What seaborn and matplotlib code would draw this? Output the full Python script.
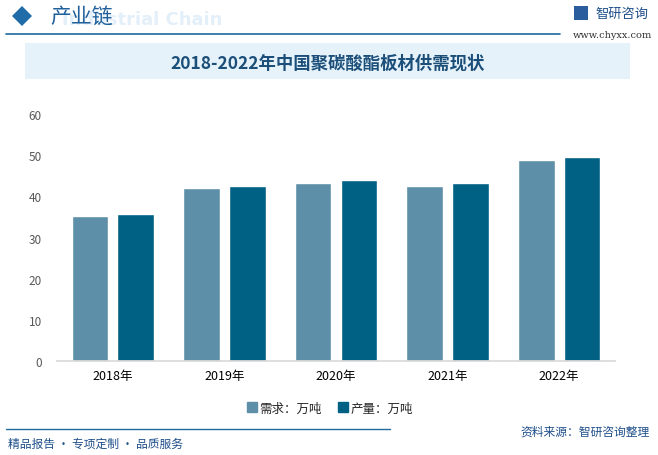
import matplotlib
matplotlib.use("Agg")
import matplotlib.pyplot as plt
import seaborn as sns
import pandas as pd
from matplotlib.patches import Rectangle, Polygon
from matplotlib.lines import Line2D

years = ["2018年", "2019年", "2020年", "2021年", "2022年"]
demand = [35.2, 42.0, 43.2, 42.5, 48.8]
production = [35.7, 42.5, 43.9, 43.2, 49.5]
series_names = ["需求：万吨", "产量：万吨"]
colors = ["#5E8FA8", "#006185"]

sns.set_theme(style="white")
plt.rcParams['font.family'] = ['Noto Sans CJK SC', 'DejaVu Sans']

df = pd.DataFrame({
    "year": years * 2,
    "value": demand + production,
    "series": [series_names[0]] * len(years) + [series_names[1]] * len(years),
})

fig = plt.figure(figsize=(6.58, 4.56), dpi=100)
ax = fig.add_axes([57/658, 1-362/456, (615-57)/658, (362-115)/456])

sns.barplot(data=df, x="year", y="value", hue="series", palette=colors,
            width=0.82, gap=0.2, ax=ax, legend=False, saturation=1)

ax.set_xlim(-0.5, 4.5)
ax.set_ylim(0, 60)
ax.set_yticks(range(0, 61, 10))
ax.set_xlabel("")
ax.set_ylabel("")
for s in ["left", "right", "top"]:
    ax.spines[s].set_visible(False)
ax.spines["bottom"].set_color("#D9D9D9")
ax.tick_params(axis="y", colors="#595959", labelsize=8.5, length=0, pad=11)
ax.tick_params(axis="x", colors="#000000", labelsize=9, length=0, pad=6)
ax.grid(False)

# Legend
handles = [Line2D([0], [0], marker="s", linestyle="", markersize=7,
                  markerfacecolor=c, markeredgecolor=c) for c in colors]
fig.legend(handles, series_names, loc="center", bbox_to_anchor=(0.5, 1-409/456),
           ncol=2, frameon=False, fontsize=9, handletextpad=0.1, columnspacing=1.2,
           handlelength=1.0)

# Header
fig.patches.append(Polygon([[ (22-10)/658, 1-17/456], [22/658, 1-7/456],
                            [(22+10)/658, 1-17/456], [22/658, 1-27/456]],
                           closed=True, transform=fig.transFigure,
                           facecolor="#1F6CA8", edgecolor="none"))
fig.text(62/658, 1-25/456, "Industrial Chain", fontsize=13, color="#E3EFF9",
         fontweight="bold", family=["DejaVu Sans"], va="baseline")
fig.text(50/658, 1-17/456, "产业链", fontsize=15, color="#1F5F9B", va="center")
fig.add_artist(Line2D([6/658, 560/658], [1-35/456, 1-35/456], color="#1F6A9E",
                      lw=1.2, transform=fig.transFigure))
# Logo
fig.patches.append(Rectangle((574/658, 1-21/456), 14/658, 14/456,
                             transform=fig.transFigure, facecolor="#2B5C9E",
                             edgecolor="none"))
fig.text(595/658, 1-14/456, "智研咨询", fontsize=9.5, color="#1F4F8A", va="center")
fig.text(573/658, 1-36/456, "www.chyxx.com", fontsize=7, color="#333333",
         va="center", family=["DejaVu Serif"])

# Title band
fig.patches.append(Rectangle((25/658, 1-80/456), (630-25)/658, 36/456,
                             transform=fig.transFigure, facecolor="#E6F2FA",
                             edgecolor="none"))
fig.text(328/658, 1-64/456, "2018-2022年中国聚碳酸酯板材供需现状", fontsize=12.5,
         color="#1B4F7A", fontweight="bold", ha="center", va="center")

# Footer
fig.add_artist(Line2D([6/658, 390/658], [1-430/456, 1-430/456], color="#1F6A9E",
                      lw=1.0, transform=fig.transFigure))
fig.text(8/658, 1-444/456, "精品报告 · 专项定制 · 品质服务", fontsize=8.5,
         color="#1F4F8A", va="center")
fig.text(650/658, 1-432/456, "资料来源：智研咨询整理", fontsize=8.5,
         color="#1F4F8A", va="center", ha="right")

fig.savefig("out.png", dpi=100)
